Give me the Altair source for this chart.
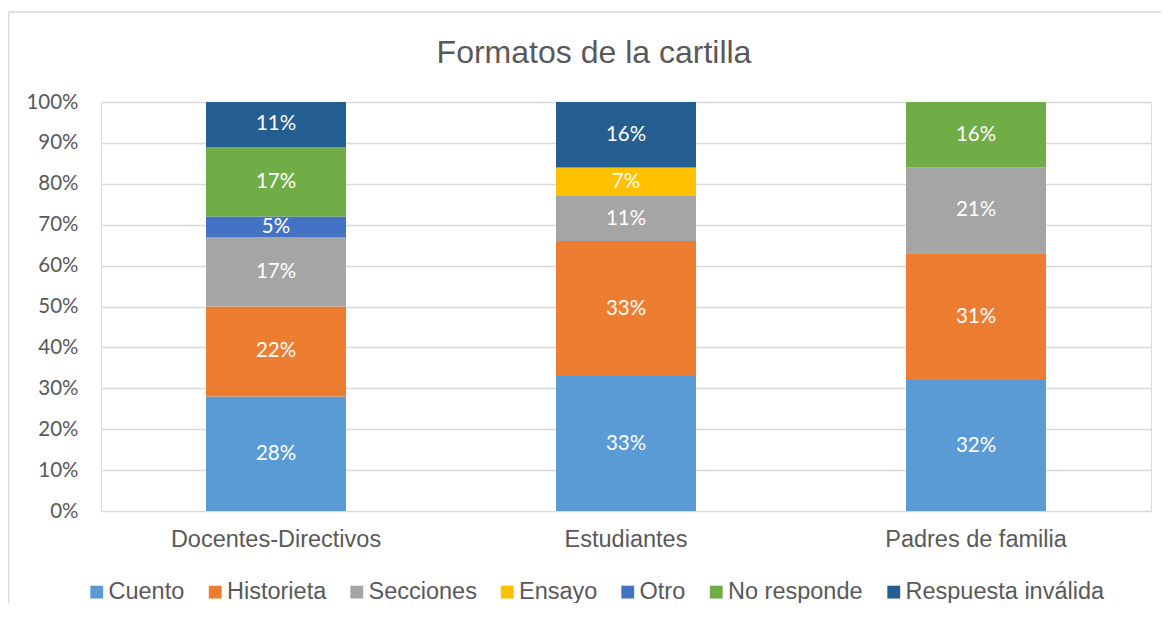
import altair as alt
import pandas as pd

categories = ["Docentes-Directivos", "Estudiantes", "Padres de familia"]
series = ["Cuento", "Historieta", "Secciones", "Ensayo", "Otro", "No responde", "Respuesta inválida"]
colors = ["#5B9BD5", "#ED7D31", "#A5A5A5", "#FFC000", "#4472C4", "#70AD47", "#255E91"]
cuento = [28, 33, 32]
historieta = [22, 33, 31]
secciones = [17, 11, 21]
ensayo = [0, 7, 0]
otro = [5, 0, 0]
no_responde = [17, 0, 16]
respuesta_invalida = [11, 16, 0]
y_ticks = [0, 10, 20, 30, 40, 50, 60, 70, 80, 90, 100]
title_text = "Formatos de la cartilla"

series_values = [cuento, historieta, secciones, ensayo, otro, no_responde, respuesta_invalida]
rows = []
for si, (name, vals) in enumerate(zip(series, series_values)):
    for ci, cat in enumerate(categories):
        if vals[ci] > 0:
            rows.append({"cat": cat, "serie": name, "value": vals[ci], "idx": si})
df = pd.DataFrame(rows)

GREY = "#595959"

base = alt.Chart(df)

bars = base.mark_bar().encode(
    x=alt.X("cat:N", sort=categories,
            scale=alt.Scale(paddingInner=0.6, paddingOuter=0.3),
            axis=alt.Axis(title=None, labelAngle=0, ticks=False, tickSize=0, domain=False,
                          labelFont="Liberation Sans", labelFontSize=23.5, labelColor=GREY,
                          labelPadding=16, labelLimit=600, grid=False)),
    y=alt.Y("value:Q", stack="zero",
            scale=alt.Scale(domain=[0, 100], nice=False),
            axis=alt.Axis(title=None, values=y_ticks, labelExpr="datum.value + '%'",
                          ticks=False, tickSize=0, domain=False, grid=True,
                          gridColor="#d9d9d9", gridWidth=1.3,
                          labelFont="Lato", labelFontSize=20.5, labelColor=GREY,
                          labelPadding=23)),
    color=alt.Color("serie:N",
                    scale=alt.Scale(domain=series, range=colors),
                    legend=alt.Legend(title=None, orient="none", legendX=-16, legendY=478,
                                      direction="horizontal", symbolType="square",
                                      symbolSize=165, symbolStrokeWidth=0,
                                      labelFont="Liberation Sans", labelFontSize=23.5,
                                      labelColor=GREY, columnPadding=18.5, labelOffset=0,
                                      padding=0, labelLimit=600)),
    order=alt.Order("idx:Q", sort="ascending"),
)

labels = base.transform_stack(
    stack="value", as_=["y0", "y1"], groupby=["cat"], sort=[alt.SortField("idx", order="ascending")]
).transform_calculate(
    mid="(datum.y0 + datum.y1) / 2",
    label="datum.value + '%'",
).mark_text(color="white", font="Lato", fontSize=20.5, baseline="middle", align="center").encode(
    x=alt.X("cat:N", sort=categories),
    y=alt.Y("mid:Q"),
    text="label:N",
)

title = alt.Chart(alt.Data(values=[{"t": title_text}])).mark_text(
    font="Liberation Sans", fontSize=32, color=GREY, align="center", baseline="alphabetic"
).encode(x=alt.value(493), y=alt.value(-39), text="t:N")

one = alt.Data(values=[{"a": 1}])
border_left = alt.Chart(one).mark_rule(color="#d9d9d9", strokeWidth=1.5).encode(
    x=alt.value(-92.5), y=alt.value(-90), y2=alt.value(520))
border_top = alt.Chart(one).mark_rule(color="#d9d9d9", strokeWidth=1.5).encode(
    x=alt.value(-92.5), x2=alt.value(1100), y=alt.value(-90))

chart = alt.layer(border_left, border_top, bars, labels, title).properties(
    width=1050, height=409,
    autosize=alt.AutoSizeParams(type="none"),
    padding={"left": 93, "top": 94, "right": 10, "bottom": 92},
).configure_view(stroke=None).configure(background="white")

chart.save("out.html", embed_options={"renderer": "svg", "actions": False})
